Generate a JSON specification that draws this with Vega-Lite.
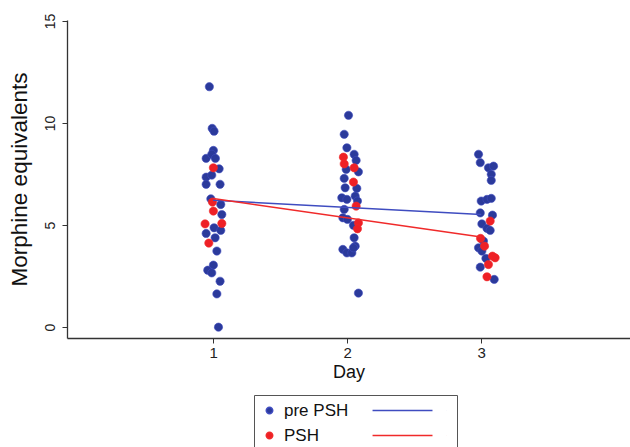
{
  "$schema": "https://vega.github.io/schema/vega-lite/v6.json",
  "autosize": "none",
  "width": 563,
  "height": 318,
  "padding": {"left": 67, "top": 20, "right": 0, "bottom": 109},
  "background": "white",
  "config": {
    "view": {"stroke": null},
    "font": "Liberation Sans",
    "axis": {"grid": false, "domainColor": "#333333", "tickColor": "#333333", "labelColor": "#222222", "titleColor": "#111111", "titleFontWeight": "normal", "domainWidth": 1.3, "tickWidth": 1, "tickSize": 5}
  },
  "datasets": {
    "pts": [
      {"group": "pre PSH", "x": 0.972, "value": 11.78},
      {"group": "pre PSH", "x": 0.993, "value": 9.74},
      {"group": "pre PSH", "x": 1.007, "value": 9.6},
      {"group": "pre PSH", "x": 1.002, "value": 8.66},
      {"group": "pre PSH", "x": 0.948, "value": 8.27},
      {"group": "pre PSH", "x": 0.99, "value": 8.47},
      {"group": "pre PSH", "x": 1.017, "value": 8.27},
      {"group": "pre PSH", "x": 1.045, "value": 7.76},
      {"group": "pre PSH", "x": 0.948, "value": 7.35},
      {"group": "pre PSH", "x": 0.99, "value": 7.45},
      {"group": "pre PSH", "x": 0.948, "value": 7.0},
      {"group": "pre PSH", "x": 1.052, "value": 7.0},
      {"group": "pre PSH", "x": 0.983, "value": 6.29},
      {"group": "pre PSH", "x": 1.057, "value": 6.01},
      {"group": "pre PSH", "x": 1.065, "value": 5.52},
      {"group": "pre PSH", "x": 1.007, "value": 4.87},
      {"group": "pre PSH", "x": 1.057, "value": 4.74},
      {"group": "pre PSH", "x": 0.948, "value": 4.59},
      {"group": "pre PSH", "x": 1.015, "value": 4.38},
      {"group": "pre PSH", "x": 1.028, "value": 3.73},
      {"group": "pre PSH", "x": 1.002, "value": 3.04},
      {"group": "pre PSH", "x": 0.96, "value": 2.79},
      {"group": "pre PSH", "x": 0.99, "value": 2.66},
      {"group": "pre PSH", "x": 1.052, "value": 2.25},
      {"group": "pre PSH", "x": 1.028, "value": 1.63},
      {"group": "pre PSH", "x": 1.04, "value": 0.0},
      {"group": "pre PSH", "x": 2.01, "value": 10.38},
      {"group": "pre PSH", "x": 1.978, "value": 9.45},
      {"group": "pre PSH", "x": 1.998, "value": 8.79},
      {"group": "pre PSH", "x": 2.052, "value": 8.47},
      {"group": "pre PSH", "x": 2.067, "value": 8.17},
      {"group": "pre PSH", "x": 1.993, "value": 7.73},
      {"group": "pre PSH", "x": 2.084, "value": 7.61},
      {"group": "pre PSH", "x": 1.978, "value": 7.29},
      {"group": "pre PSH", "x": 1.985, "value": 6.83},
      {"group": "pre PSH", "x": 2.072, "value": 6.8},
      {"group": "pre PSH", "x": 1.96, "value": 6.34},
      {"group": "pre PSH", "x": 1.998, "value": 6.26},
      {"group": "pre PSH", "x": 2.06, "value": 6.42},
      {"group": "pre PSH", "x": 2.077, "value": 6.18},
      {"group": "pre PSH", "x": 1.978, "value": 5.77},
      {"group": "pre PSH", "x": 1.968, "value": 5.36},
      {"group": "pre PSH", "x": 2.002, "value": 5.28},
      {"group": "pre PSH", "x": 2.047, "value": 4.99},
      {"group": "pre PSH", "x": 2.052, "value": 4.38},
      {"group": "pre PSH", "x": 2.06, "value": 3.97},
      {"group": "pre PSH", "x": 1.968, "value": 3.81},
      {"group": "pre PSH", "x": 1.998, "value": 3.64},
      {"group": "pre PSH", "x": 2.035, "value": 3.64},
      {"group": "pre PSH", "x": 2.047, "value": 3.89},
      {"group": "pre PSH", "x": 2.084, "value": 1.67},
      {"group": "pre PSH", "x": 2.98, "value": 8.47},
      {"group": "pre PSH", "x": 2.993, "value": 8.06},
      {"group": "pre PSH", "x": 3.054, "value": 7.81},
      {"group": "pre PSH", "x": 3.092, "value": 7.89},
      {"group": "pre PSH", "x": 3.075, "value": 7.49},
      {"group": "pre PSH", "x": 3.075, "value": 7.19},
      {"group": "pre PSH", "x": 3.0, "value": 6.18},
      {"group": "pre PSH", "x": 3.043, "value": 6.26},
      {"group": "pre PSH", "x": 3.075, "value": 6.31},
      {"group": "pre PSH", "x": 2.993, "value": 5.6},
      {"group": "pre PSH", "x": 3.084, "value": 5.49},
      {"group": "pre PSH", "x": 3.005, "value": 5.06},
      {"group": "pre PSH", "x": 3.043, "value": 4.84},
      {"group": "pre PSH", "x": 3.067, "value": 4.74},
      {"group": "pre PSH", "x": 3.017, "value": 4.22},
      {"group": "pre PSH", "x": 2.98, "value": 3.89},
      {"group": "pre PSH", "x": 3.005, "value": 3.73},
      {"group": "pre PSH", "x": 3.035, "value": 3.37},
      {"group": "pre PSH", "x": 2.993, "value": 2.94},
      {"group": "pre PSH", "x": 3.097, "value": 2.34},
      {"group": "PSH", "x": 1.002, "value": 7.81},
      {"group": "PSH", "x": 0.995, "value": 6.13},
      {"group": "PSH", "x": 1.002, "value": 5.69},
      {"group": "PSH", "x": 0.94, "value": 5.06},
      {"group": "PSH", "x": 1.065, "value": 5.08},
      {"group": "PSH", "x": 0.968, "value": 4.12},
      {"group": "PSH", "x": 1.972, "value": 8.33},
      {"group": "PSH", "x": 1.978, "value": 8.0},
      {"group": "PSH", "x": 2.052, "value": 7.81},
      {"group": "PSH", "x": 2.047, "value": 7.11},
      {"group": "PSH", "x": 2.067, "value": 5.93},
      {"group": "PSH", "x": 2.084, "value": 5.11},
      {"group": "PSH", "x": 2.077, "value": 4.82},
      {"group": "PSH", "x": 3.067, "value": 5.2},
      {"group": "PSH", "x": 2.995, "value": 4.35},
      {"group": "PSH", "x": 3.025, "value": 3.97},
      {"group": "PSH", "x": 3.084, "value": 3.48},
      {"group": "PSH", "x": 3.104, "value": 3.4},
      {"group": "PSH", "x": 3.054, "value": 3.07},
      {"group": "PSH", "x": 3.043, "value": 2.47}
    ],
    "fits": [
      {"group": "pre PSH", "x": 1, "value": 6.22},
      {"group": "pre PSH", "x": 3, "value": 5.52},
      {"group": "PSH", "x": 1, "value": 6.3},
      {"group": "PSH", "x": 3, "value": 4.42}
    ]
  },
  "encoding": {
    "x": {
      "field": "x", "type": "quantitative",
      "scale": {"domain": [-0.09, 4.11], "nice": false, "zero": false},
      "axis": {"values": [1, 2, 3], "title": "Day", "labelFontSize": 15, "titleFontSize": 18, "labelPadding": 2, "titlePadding": 3, "format": "d"}
    },
    "y": {
      "field": "value", "type": "quantitative",
      "scale": {"domain": [-0.53, 15.05], "nice": false, "zero": false},
      "axis": {"values": [0, 5, 10, 15], "title": "Morphine equivalents", "labelFontSize": 14, "labelAngle": 270, "labelPadding": 5, "titleFontSize": 22.5, "titlePadding": 12, "format": "d"}
    }
  },
  "layer": [
    {
      "data": {"name": "pts"},
      "mark": {"type": "circle", "size": 68, "opacity": 1, "strokeWidth": 0.6},
      "encoding": {
        "fill": {
          "field": "group", "type": "nominal",
          "scale": {"domain": ["pre PSH", "PSH"], "range": ["#2b3a9b", "#ee2026"]},
          "legend": {"title": null, "orient": "none", "legendX": 187, "legendY": 375, "padding": 7, "strokeColor": "#555555", "fillColor": "white", "labelFontSize": 17, "labelColor": "#111111", "labelOffset": 6, "rowPadding": 7, "symbolSize": 42, "symbolStrokeWidth": 1.5, "symbolType": "M-1,0A1,1,0,1,1,1,0A1,1,0,1,1,-1,0Z M31.8,0H50.3 M54.6,0h0.01"}
        },
        "stroke": {
          "field": "group", "type": "nominal",
          "scale": {"domain": ["pre PSH", "PSH"], "range": ["#3f4cc0", "#f02a2a"]},
          "legend": {"title": null, "orient": "none", "legendX": 187, "legendY": 375, "padding": 7, "strokeColor": "#555555", "fillColor": "white", "labelFontSize": 17, "labelColor": "#111111", "labelOffset": 6, "rowPadding": 7, "symbolSize": 42, "symbolStrokeWidth": 1.5, "symbolType": "M-1,0A1,1,0,1,1,1,0A1,1,0,1,1,-1,0Z M31.8,0H50.3 M54.6,0h0.01"}
        }
      }
    },
    {
      "data": {"name": "fits"},
      "mark": {"type": "line", "strokeWidth": 1.5},
      "encoding": {
        "color": {
          "field": "group", "type": "nominal",
          "scale": {"domain": ["pre PSH", "PSH"], "range": ["#3f4cc0", "#f02a2a"]},
          "legend": null
        }
      }
    }
  ]
}
